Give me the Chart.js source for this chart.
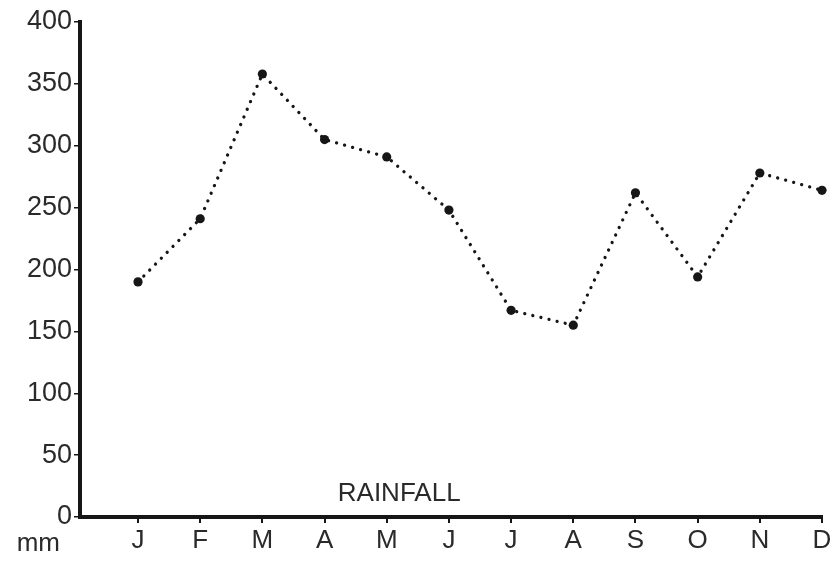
<!DOCTYPE html>
<html lang="en">
<head>
<meta charset="UTF-8">
<title>Rainfall</title>
<script src="https://cdn.jsdelivr.net/npm/chart.js@4/dist/chart.umd.min.js"></script>
<style>
  html, body { margin: 0; padding: 0; background: #fff; }
  #wrap { width: 835px; height: 569px; }
</style>
</head>
<body>
<div id="wrap"><canvas id="chart" width="835" height="569"></canvas></div>
<script>
// data
const months   = ['J', 'F', 'M', 'A', 'M', 'J', 'J', 'A', 'S', 'O', 'N', 'D'];
const rainfall = [190, 241, 358, 305, 291, 248, 167, 155, 262, 194, 278, 264];
const yMin = 0, yMax = 400, yStep = 50;
const unitLabel = 'mm';
const chartLabel = 'RAINFALL';

const ink = '#161616';
const txt = '#2a2a2a';
const font = { family: '"Liberation Sans", Arial, sans-serif', size: 26 };

const labelsPlugin = {
  id: 'labels',
  afterDraw(chart) {
    const { ctx, scales: { x, y } } = chart;
    ctx.save();
    ctx.fillStyle = txt;
    ctx.textBaseline = 'middle';
    ctx.font = '26px "Liberation Sans", Arial, sans-serif';
    ctx.textAlign = 'right';
    ctx.fillText(unitLabel, y.right - 20, x.top + 27);
    ctx.textAlign = 'center';
    ctx.fillText(chartLabel, x.getPixelForValue(4.2), y.getPixelForValue(19));
    ctx.restore();
  }
};

new Chart(document.getElementById('chart'), {
  type: 'line',
  data: {
    datasets: [{
      data: rainfall.map((v, i) => ({ x: i, y: v })),
      borderColor: ink,
      borderWidth: 3.3,
      borderDash: [0.01, 8.3],
      borderCapStyle: 'round',
      pointRadius: 4.6,
      pointBackgroundColor: ink,
      pointBorderWidth: 0,
      tension: 0,
      clip: false,
    }],
  },
  options: {
    responsive: false,
    animation: false,
    layout: { padding: { top: 22, right: 13, left: 0, bottom: 0 } },
    plugins: { legend: { display: false }, tooltip: { enabled: false } },
    scales: {
      x: {
        type: 'linear',
        min: -0.933,
        max: months.length - 1,
        afterBuildTicks: s => { s.ticks = months.map((m, i) => ({ value: i })); },
        afterFit: s => { s.height = 52; },
        ticks: { callback: v => months[v] ?? '', color: txt, font, padding: 2, maxRotation: 0, autoSkip: false },
        grid: { display: true, drawOnChartArea: false, tickLength: 6, color: ink, lineWidth: 2 },
        border: { display: true, color: ink, width: 4 },
      },
      y: {
        min: yMin,
        max: yMax,
        afterFit: s => { s.width = 80; },
        ticks: { stepSize: yStep, color: txt, font: { ...font, size: 27 }, padding: 2 },
        grid: { display: true, drawOnChartArea: false, tickLength: 6, color: ink, lineWidth: 1.5 },
        border: { display: true, color: ink, width: 4 },
      },
    },
  },
  plugins: [labelsPlugin],
});
</script>
</body>
</html>
